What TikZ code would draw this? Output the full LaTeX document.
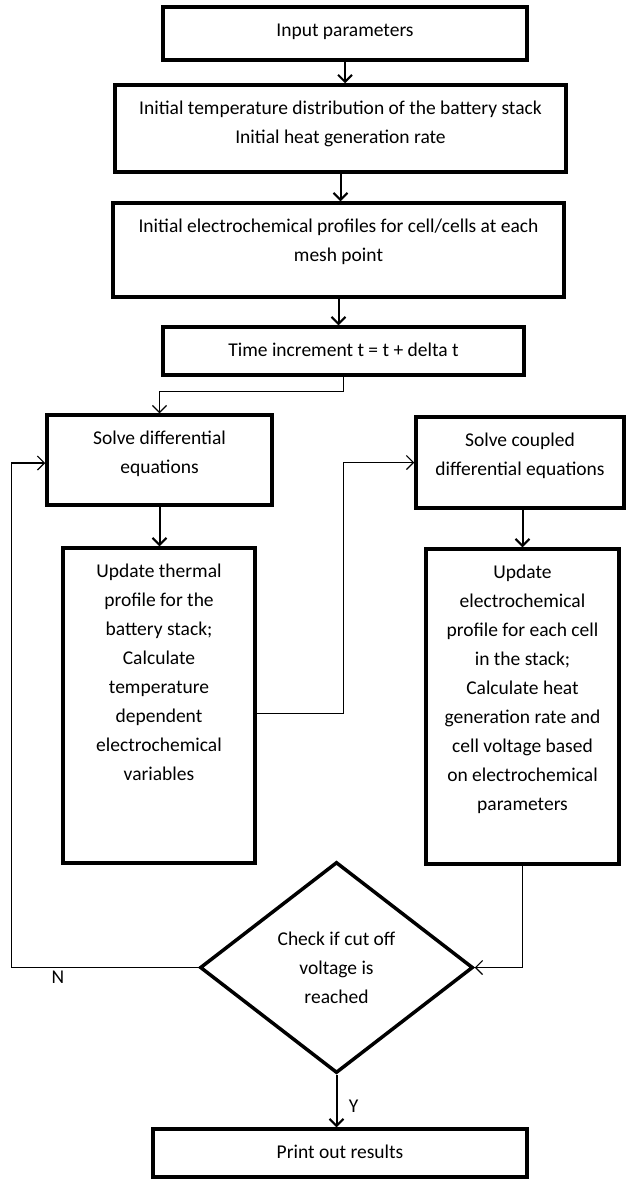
\documentclass[tikz,border=0pt]{standalone}
\usepackage{fontspec}
\setmainfont{Carlito}
\usetikzlibrary{shapes.geometric,arrows.meta}

\begin{document}
\begin{tikzpicture}[x=1pt,y=-1pt,
    font=\fontsize{19.5}{29}\selectfont,
    box/.style={draw, line width=3.5pt, align=center, inner xsep=4pt, inner ysep=10pt},
    decide/.style={diamond, draw, line width=3.5pt, align=center, inner sep=0pt, minimum width=273pt, minimum height=211pt},
    arr/.style={line width=2pt, -{Straight Barb[length=7pt,width=14pt]}},
    arrthin/.style={line width=1.2pt, -{Straight Barb[length=7pt,width=14pt]}}]
      \useasboundingbox (0,0) rectangle (626,1181);
      \node[box, minimum width=364pt, text height=19.5pt, text depth=13.5pt] (inp) at (345,33.5) {Input parameters};
      \node[box, minimum width=451pt, text height=48.5pt, text depth=18.5pt] (init) at (340.5,128.5) {Initial temperature distribution of the battery stack\\Initial heat generation rate};
      \node[box, minimum width=451pt, text height=48.5pt, text depth=25.5pt] (prof) at (338.5,250) {Initial electrochemical profiles for cell/cells at each\\mesh point};
      \node[box, minimum width=361pt, text height=19.5pt, text depth=8.5pt] (time) at (343.5,351) {Time increment t = t + delta t};
      \node[box, minimum width=225pt, text height=48.5pt, text depth=21.5pt] (solve) at (159.5,460) {Solve differential\\equations};
      \node[box, minimum width=208pt, text height=48.5pt, text depth=22.5pt] (coupled) at (520,462.5) {Solve coupled\\differential equations};
      \node[box, minimum width=192pt, text height=222.5pt, text depth=72.5pt] (thermal) at (159,705.5) {Update thermal\\profile for the\\battery stack;\\Calculate\\temperature\\dependent\\electrochemical\\variables};
      \node[box, minimum width=193pt, text height=251.5pt, text depth=43.5pt] (electro) at (522.5,706.5) {Update\\electrochemical\\profile for each cell\\in the stack;\\Calculate heat\\generation rate and\\cell voltage based\\on electrochemical\\parameters};
      \node[decide] (check) at (336.5,967.5) {Check if cut off\\voltage is\\reached};
      \node[box, minimum width=374pt, text height=19.5pt, text depth=8.5pt] (print) at (340,1153) {Print out results};
      \draw[arr] (inp.south) -- (inp.south |- init.north);
      \draw[arr] (init.south) -- (init.south |- prof.north);
      \draw[arr] (prof.south) -- (prof.south |- time.north);
      \draw[arrthin] (time.south) -- ++(0,15) -| (solve.north);
      \draw[arr] (solve.south) -- (solve.south |- thermal.north);
      \draw[arrthin] ([yshift=-8pt]thermal.east) -- ++(87,0) |- (coupled.west);
      \draw[arr] (coupled.south -| electro.north) -- (electro.north);
      \draw[arrthin] (electro.south) |- (check.east);
      \draw[arrthin] (check.west) -- node[pos=0.75, below] (no) {N} ++(-187,0) |- ([yshift=-3pt]solve.west);
      \draw[arr] (check.south) -- node[pos=0.6, right=8pt] (yes) {Y} (check.south |- print.north);
\end{tikzpicture}
\end{document}
